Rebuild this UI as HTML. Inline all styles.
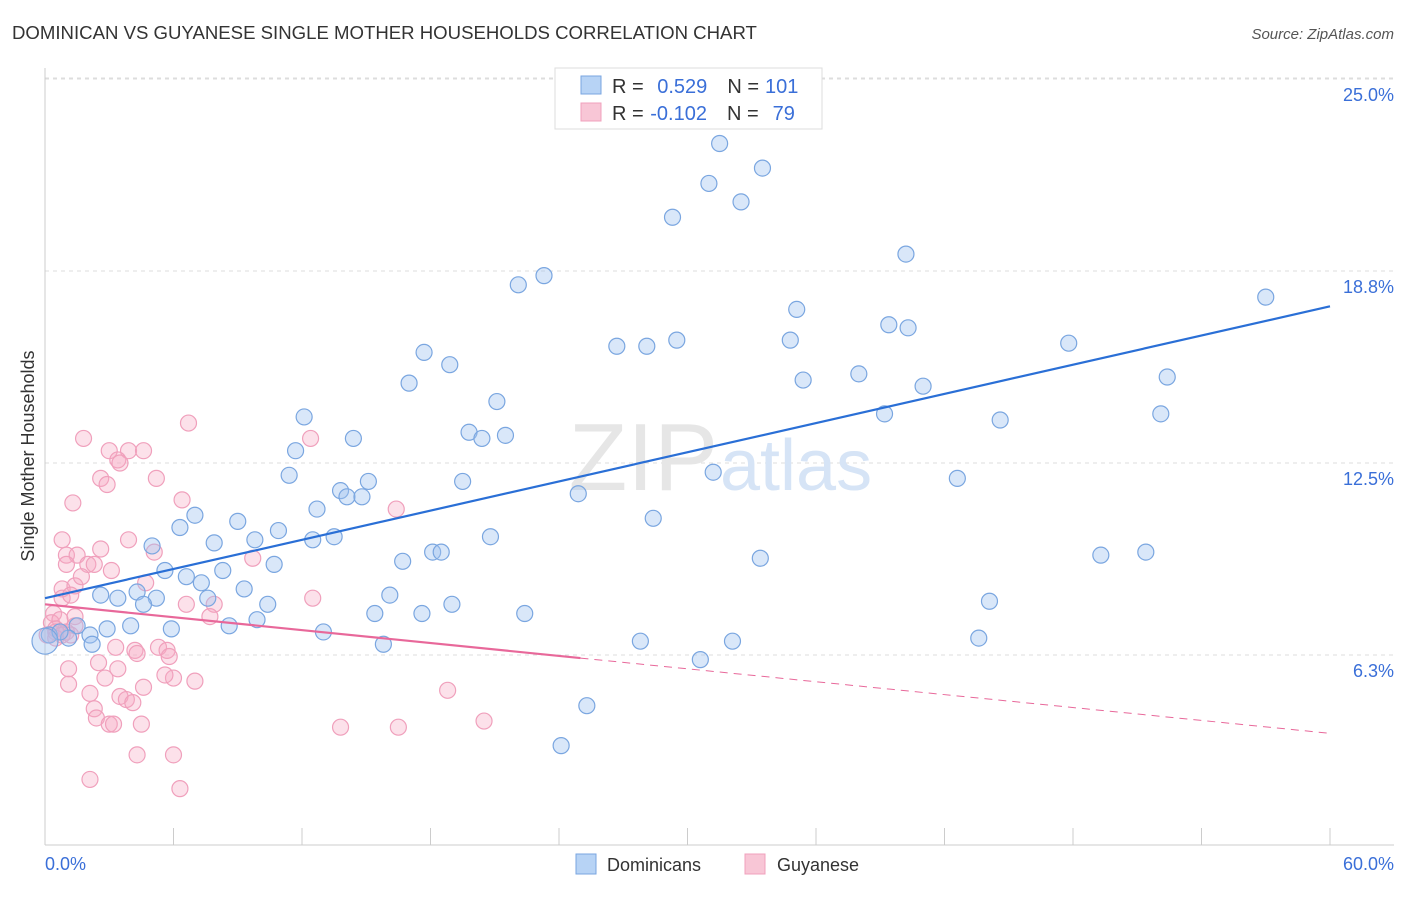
<!DOCTYPE html>
<html><head><meta charset="utf-8"><style>
body{margin:0;background:#fff;font-family:"Liberation Sans",sans-serif;}
svg text{font-family:"Liberation Sans",sans-serif;}
</style></head><body>
<svg id="chart" width="1406" height="892" xmlns="http://www.w3.org/2000/svg">
<text x="12" y="39" font-size="18.6" fill="#333">DOMINICAN VS GUYANESE SINGLE MOTHER HOUSEHOLDS CORRELATION CHART</text>
<text x="1394" y="39" font-size="15" fill="#555" font-style="italic" text-anchor="end">Source: ZipAtlas.com</text>
<text transform="translate(34,456) rotate(-90)" font-size="18" fill="#333" text-anchor="middle">Single Mother Households</text>
<g id="grid"></g>
<text x="718" y="490" font-size="96" fill="#e6e6e6" text-anchor="end" font-family="Liberation Serif">ZIP</text>
<text x="720" y="490" font-size="72" fill="#d6e4f6">atlas</text>
<g id="ticks"></g>
<g id="pink"></g>
<g id="blue"></g>
<g id="lines"></g>
<g>
<rect x="555" y="68" width="267" height="61" fill="#fff" stroke="#ddd"/>
<rect x="581" y="76" width="20" height="18" fill="#b7d3f5" stroke="#7aa6e0"/>
<rect x="581" y="103" width="20" height="18" fill="#f8c6d6" stroke="#f0a0bc"/>
<text x="612" y="93" font-size="20" fill="#333">R = <tspan fill="#3a6fd8" dx="8">0.529</tspan><tspan dx="20" fill="#333">N =</tspan><tspan dx="6" fill="#3a6fd8">101</tspan></text>
<text x="612" y="120" font-size="20" fill="#333">R = <tspan fill="#3a6fd8" dx="1">-0.102</tspan><tspan dx="20" fill="#333">N =</tspan><tspan dx="14" fill="#3a6fd8">79</tspan></text>
</g>
<g>
<rect x="576" y="854" width="20" height="20" fill="#b7d3f5" stroke="#7aa6e0"/>
<text x="607" y="871" font-size="18" fill="#333">Dominicans</text>
<rect x="745" y="854" width="20" height="20" fill="#f8c6d6" stroke="#f0a0bc"/>
<text x="777" y="871" font-size="18" fill="#333">Guyanese</text>
</g>
</svg>
<script>
const yTicks=[6.25,12.5,18.75,25];
const yTickLabels=["6.3%","12.5%","18.8%","25.0%"];
const xTickCount=10;
const blueX=[31.5,33.5,31.0,32.5,29.3,40.2,23.3,22.1,57.0,35.1,39.4,40.3,34.8,26.7,28.1,29.5,47.8,17.7,18.9,17.0,35.4,38.0,41.0,21.1,52.1,52.4,39.2,44.6,12.1,19.8,20.4,21.5,14.4,11.7,11.4,19.5,31.2,42.6,13.8,14.1,14.8,15.1,12.7,24.9,7.0,9.0,6.3,28.4,10.9,20.8,5.0,7.9,9.8,12.5,13.5,18.1,18.5,16.7,33.4,49.3,51.4,5.6,8.3,10.7,6.6,7.3,9.3,16.1,2.6,3.4,4.3,5.2,7.6,4.6,10.4,19.0,44.1,15.4,17.6,22.4,9.9,8.6,1.5,4.0,2.9,5.9,13.0,2.1,1.1,0.2,0.7,15.8,27.8,32.1,43.6,2.2,30.6,25.3,24.1,0.0];
const blueY=[22.9,22.1,21.6,21.0,20.5,19.3,18.6,18.3,17.9,17.5,17.0,16.9,16.5,16.3,16.3,16.5,16.4,16.1,15.7,15.1,15.2,15.4,15.0,14.5,14.1,15.3,14.1,13.9,14.0,13.5,13.3,13.4,13.3,12.9,12.1,11.9,12.2,12.0,11.6,11.4,11.4,11.9,11.0,11.5,10.8,10.6,10.4,10.7,10.3,10.1,9.8,9.9,10.0,10.0,10.1,9.6,9.6,9.3,9.4,9.5,9.6,9.0,9.0,9.2,8.8,8.6,8.4,8.2,8.2,8.1,8.3,8.1,8.1,7.9,7.9,7.9,8.0,7.6,7.6,7.6,7.4,7.2,7.2,7.2,7.1,7.1,7.0,6.9,6.8,6.9,7.0,6.6,6.7,6.7,6.8,6.6,6.1,4.6,3.3,6.7];
const pinkX=[1.8,1.3,3.0,3.9,4.6,3.4,6.7,5.2,2.6,2.9,3.5,12.4,6.4,16.4,0.8,3.9,5.1,2.6,1.0,1.5,1.0,2.0,2.3,3.1,4.7,9.7,0.8,1.4,1.7,0.8,1.2,12.5,6.6,7.9,0.4,1.4,0.3,0.7,0.5,1.0,1.4,7.7,5.3,3.3,4.2,4.3,5.7,5.8,2.5,1.1,3.4,2.8,6.0,5.6,7.0,1.1,4.6,2.1,3.5,3.8,4.1,18.8,2.3,2.4,3.0,3.2,4.5,13.8,16.5,20.5,4.3,6.0,2.1,6.3,0.5,0.1,0.8,0.5,1.2];
const pinkY=[13.3,11.2,12.9,12.9,12.9,12.6,13.8,12.0,12.0,11.8,12.5,13.3,11.3,11.0,10.0,10.0,9.6,9.7,9.5,9.5,9.2,9.2,9.2,9.0,8.6,9.4,8.4,8.5,8.8,8.1,8.2,8.1,7.9,7.9,7.6,7.5,7.3,7.4,7.1,7.0,7.2,7.5,6.5,6.5,6.4,6.3,6.4,6.2,6.0,5.8,5.8,5.5,5.5,5.6,5.4,5.3,5.2,5.0,4.9,4.8,4.7,5.1,4.5,4.2,4.0,4.0,4.0,3.9,3.9,4.1,3.0,3.0,2.2,1.9,7.0,6.9,6.9,6.8,6.9];
const blueTrend=[8.1,17.6];
const pinkTrend=[7.9,3.7];
const pinkSolidEnd=25;
const NS="http://www.w3.org/2000/svg";
const X0=45,X1=1330,Y0=847,PXY=30.72;
const sx=v=>X0+(X1-X0)*v/60;
const sy=v=>Y0-v*PXY;
function mk(tag,attrs,parent){const e=document.createElementNS(NS,tag);for(const k in attrs)e.setAttribute(k,attrs[k]);parent.appendChild(e);return e;}
const grid=document.getElementById('grid'),ticks=document.getElementById('ticks');
yTicks.forEach((t,i)=>{
 const l=mk('line',{x1:X0,x2:1394,y1:sy(t),y2:sy(t),stroke:'#ddd','stroke-dasharray':'4,4'},grid);
 
 
 const tx=mk('text',{x:1394,y:sy(t)+22,'font-size':18,fill:'#3a6fd8','text-anchor':'end'},ticks);
 tx.textContent=yTickLabels[i];
 
 
});
const topGrid=mk('line',{x1:X0,x2:1394,y1:78,y2:78,stroke:'#ddd','stroke-dasharray':'4,4'},grid);


const ax=mk('line',{x1:X0,x2:1394,y1:845,y2:845,stroke:'#ccc'},ticks);


const ay=mk('line',{x1:X0,x2:X0,y1:68,y2:845,stroke:'#ccc'},ticks);


for(let i=0;i<=xTickCount;i++){
 const x=sx(60*i/xTickCount);
 const t=mk('line',{x1:x,x2:x,y1:828,y2:845,stroke:'#ccc'},ticks);
 
 
}
const xl0=mk('text',{x:45,y:870,'font-size':18,fill:'#3a6fd8'},ticks);xl0.textContent='0.0%';


const xl1=mk('text',{x:1394,y:870,'font-size':18,fill:'#3a6fd8','text-anchor':'end'},ticks);xl1.textContent='60.0%';


const pg=document.getElementById('pink');
pinkX.forEach((v,i)=>{
 const c=mk('circle',{cx:sx(v),cy:sy(pinkY[i]),r:8,fill:'rgba(246,170,196,0.35)',stroke:'#f0a0bc','stroke-width':1.2},pg);
 
 
});
const bg=document.getElementById('blue');
blueX.forEach((v,i)=>{
 const c=mk('circle',{cx:sx(v),cy:sy(blueY[i]),r:(i==blueX.length-1?13:8),fill:'rgba(160,196,240,0.4)',stroke:'#7aa6e0','stroke-width':1.2},bg);
 
 
});
const lg=document.getElementById('lines');
const bl=mk('line',{x1:sx(0),y1:sy(blueTrend[0]),x2:sx(60),y2:sy(blueTrend[1]),stroke:'#2a6fd6','stroke-width':2.2},lg);


const pAt=x=>pinkTrend[0]+(pinkTrend[1]-pinkTrend[0])*x/60;
const pl=mk('line',{x1:sx(0),y1:sy(pAt(0)),x2:sx(pinkSolidEnd),y2:sy(pAt(pinkSolidEnd)),stroke:'#e8689a','stroke-width':2.2},lg);


const pd=mk('line',{x1:sx(pinkSolidEnd),y1:sy(pAt(pinkSolidEnd)),x2:sx(60),y2:sy(pAt(60)),stroke:'#e8689a','stroke-width':1,'stroke-dasharray':'8,6'},lg);


</script>
</body></html>
